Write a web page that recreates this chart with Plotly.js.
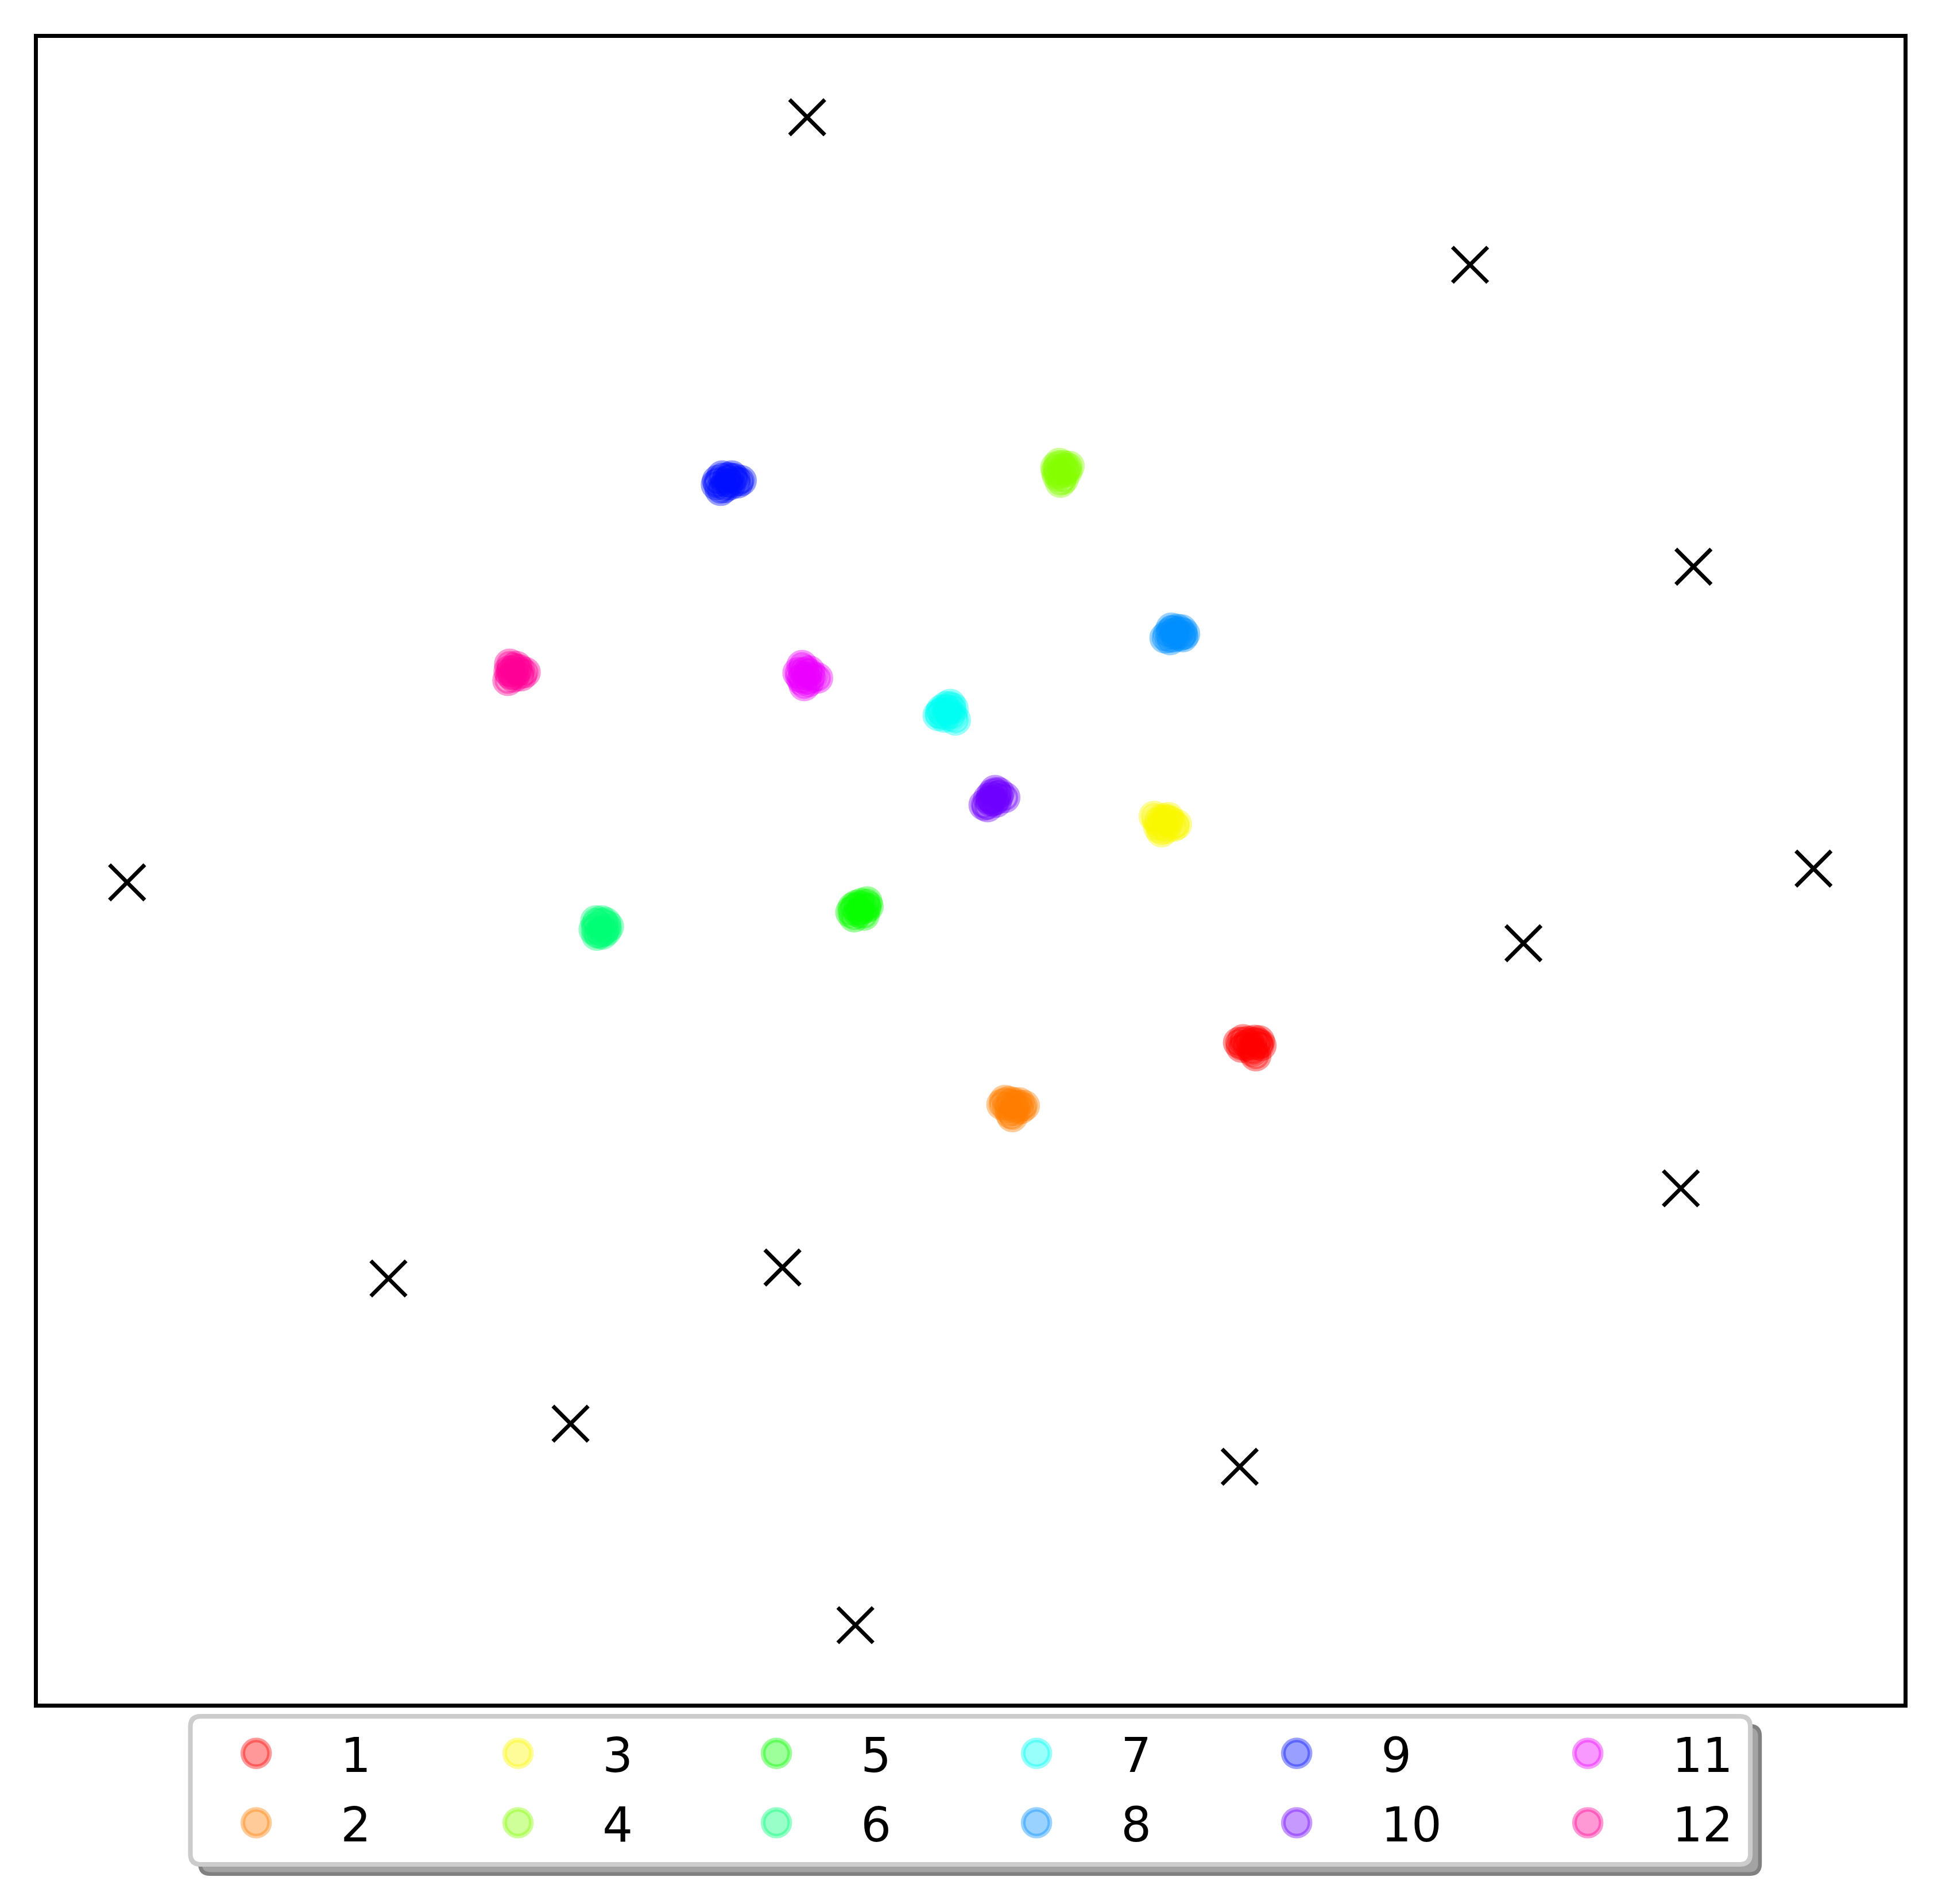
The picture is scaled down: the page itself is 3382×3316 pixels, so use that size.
<!DOCTYPE html>
<html>
<head>
<meta charset="utf-8">
<script src="https://cdn.plot.ly/plotly-3.0.1.min.js"></script>
<style>
  html, body { margin: 0; padding: 0; background: #fff; }
  #page { position: relative; width: 3382px; height: 3316px; overflow: hidden; }
  /* figure laid out at 1/3 size, then scaled up (keeps legend markers full size) */
  #plot { position: absolute; left: 0; top: 0; width: 1127.33px; height: 1105.33px; transform: scale(3); transform-origin: 0 0; }
</style>
</head>
<body>
<div id="page"><div id="plot"></div></div>
<script>
const labels = ["1", "2", "3", "4", "5", "6", "7", "8", "9", "10", "11", "12"];
const colors = ["rgba(255,0,0,0.4)", "rgba(255,125,0,0.4)", "rgba(251,247,0,0.4)", "rgba(133,255,0,0.4)",
	"rgba(8,255,0,0.4)", "rgba(0,255,118,0.4)", "rgba(0,255,243,0.4)", "rgba(0,142,255,0.4)",
	"rgba(0,16,255,0.4)", "rgba(110,0,255,0.4)", "rgba(235,0,255,0.4)", "rgba(255,0,149,0.4)"];

// embedded points of each class
const clusterX = [
	[2157, 2165, 2175, 2185, 2193, 2196, 2180, 2170, 2187, 2182, 2162, 2190],
	[1745, 1750, 1758, 1765, 1775, 1784, 1778, 1768, 1760, 1763, 1755, 1770],
	[2010, 2016, 2022, 2030, 2038, 2049, 2044, 2023, 2030, 2018, 2035, 2026],
	[1839, 1845, 1852, 1862, 1858, 1848, 1842, 1847, 1852, 1840, 1856],
	[1482, 1486, 1492, 1500, 1510, 1508, 1505, 1496, 1488, 1500, 1512],
	[1035, 1040, 1048, 1055, 1060, 1052, 1044, 1040, 1050, 1056, 1038],
	[1634, 1640, 1648, 1655, 1660, 1652, 1645, 1664, 1658, 1638, 1650],
	[2029, 2035, 2042, 2050, 2058, 2063, 2055, 2045, 2038, 2048, 2060, 2040],
	[1250, 1258, 1268, 1280, 1291, 1262, 1255, 1272, 1266, 1285, 1248, 1275],
	[1714, 1720, 1726, 1733, 1728, 1738, 1750, 1730, 1722, 1740, 1735],
	[1397, 1400, 1390, 1395, 1405, 1415, 1424, 1401, 1408, 1398, 1410],
	[888, 893, 898, 905, 915, 908, 895, 885, 890, 900, 887]
];
const clusterY = [
	[1817, 1812, 1815, 1813, 1814, 1822, 1825, 1822, 1840, 1832, 1825, 1820],
	[1925, 1918, 1920, 1922, 1922, 1927, 1932, 1935, 1940, 1946, 1930, 1928],
	[1423, 1430, 1436, 1430, 1432, 1437, 1440, 1450, 1444, 1442, 1425, 1427],
	[815, 808, 812, 813, 822, 825, 830, 841, 835, 822, 818],
	[1590, 1582, 1578, 1575, 1572, 1582, 1595, 1590, 1598, 1585, 1580],
	[1620, 1612, 1605, 1608, 1615, 1620, 1626, 1630, 1628, 1622, 1605],
	[1247, 1238, 1232, 1228, 1235, 1242, 1250, 1255, 1248, 1243, 1238],
	[1112, 1105, 1100, 1097, 1098, 1105, 1108, 1110, 1115, 1104, 1110, 1095],
	[838, 830, 833, 835, 838, 850, 855, 845, 840, 842, 845, 830],
	[1403, 1406, 1396, 1378, 1385, 1388, 1390, 1395, 1392, 1382, 1398],
	[1160, 1168, 1173, 1180, 1176, 1180, 1182, 1195, 1188, 1186, 1170],
	[1158, 1165, 1172, 1168, 1172, 1178, 1180, 1186, 1175, 1162, 1170]
];

// anchor points (x markers)
const anchorX = [1406, 2560, 2949, 3158, 222, 2653, 2927, 677, 1363, 994, 2159, 1490];
const anchorY = [205, 462, 988, 1514, 1538, 1644, 2071, 2228, 2209, 2481, 2556, 2832];

const W = 1127.33, H = 1105.33;
const M = { l: 22.2, r: 22.4, t: 22.2, b: 115.7 };
const plotW = W - M.l - M.r, plotH = H - M.t - M.b;
const px = v => (v - M.l) / plotW;
const py = v => (H - M.b - v) / plotH;

// legend column widths (matplotlib-like 6 columns x 2 rows)
const colWidth = [49, 47, 48, 48, 66, 45];

let traces = labels.map((lab, i) => ({
	x: clusterX[i],
	y: clusterY[i],
	type: "scatter",
	mode: "markers",
	name: lab,
	legend: i % 2 === 0 ? "legend" : "legend2",
	legendwidth: colWidth[Math.floor(i / 2)],
	marker: { size: 15.5, color: colors[i], line: { color: colors[i], width: 2.7 } },
	hoverinfo: "skip"
}));

traces.push({
	x: anchorX,
	y: anchorY,
	type: "scatter",
	mode: "markers",
	showlegend: false,
	marker: { symbol: "x-thin", size: 20.5, color: "black", line: { color: "black", width: 2.3 } },
	hoverinfo: "skip"
});

function roundRect(x0, y0, x1, y1, r) {
	return `M${px(x0 + r)},${py(y0)} L${px(x1 - r)},${py(y0)} Q${px(x1)},${py(y0)} ${px(x1)},${py(y0 + r)} ` +
		`L${px(x1)},${py(y1 - r)} Q${px(x1)},${py(y1)} ${px(x1 - r)},${py(y1)} ` +
		`L${px(x0 + r)},${py(y1)} Q${px(x0)},${py(y1)} ${px(x0)},${py(y1 - r)} ` +
		`L${px(x0)},${py(y0 + r)} Q${px(x0)},${py(y0)} ${px(x0 + r)},${py(y0)} Z`;
}

const legendFont = { family: "DejaVu Sans", size: 27.7, color: "black" };
const legendBase = {
	orientation: "h",
	xanchor: "left",
	yanchor: "middle",
	x: px(99.9),
	bgcolor: "rgba(0,0,0,0)",
	borderwidth: 0,
	itemwidth: 88,
	font: legendFont,
	traceorder: "normal"
};

let layout = {
	width: W,
	height: H,
	margin: { l: M.l, r: M.r, t: M.t, b: M.b, pad: 0 },
	paper_bgcolor: "white",
	plot_bgcolor: "white",
	showlegend: true,
	xaxis: {
		range: [66.7, 3314.7],
		showgrid: false, zeroline: false, showticklabels: false, ticks: "",
		showline: true, mirror: true, linecolor: "black", linewidth: 2.2
	},
	yaxis: {
		range: [2968.7, 66.7],
		showgrid: false, zeroline: false, showticklabels: false, ticks: "",
		showline: true, mirror: true, linecolor: "black", linewidth: 2.2
	},
	legend: Object.assign({}, legendBase, { y: py(1019) }),
	legend2: Object.assign({}, legendBase, { y: py(1059.3) }),
	shapes: [
		// legend shadow
		{
			type: "path", xref: "paper", yref: "paper", layer: "above",
			path: roundRect(116.3, 1002.6, 1021.6, 1088.6, 6),
			fillcolor: "#a3a3a3", line: { color: "#808080", width: 2.2 }
		},
		// legend frame
		{
			type: "path", xref: "paper", yref: "paper", layer: "above",
			path: roundRect(110.7, 997, 1016, 1083, 6),
			fillcolor: "white", line: { color: "#cccccc", width: 2.7 }
		}
	]
};

Plotly.newPlot("plot", traces, layout, { displayModeBar: false, staticPlot: true });
</script>
</body>
</html>
